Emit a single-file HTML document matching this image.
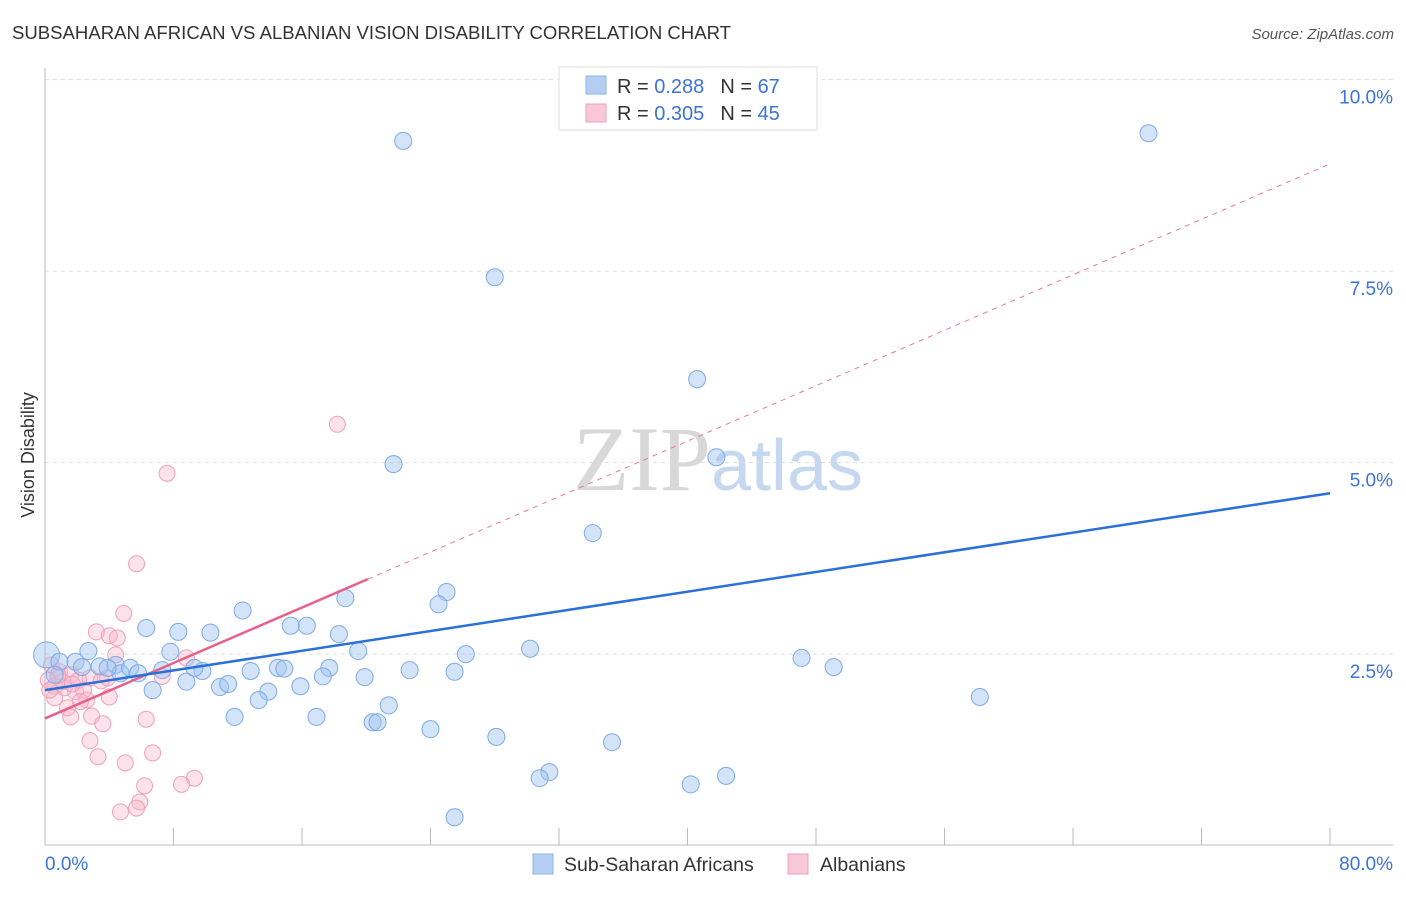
<!DOCTYPE html>
<html><head><meta charset="utf-8"><style>
body{margin:0;background:#fff;font-family:"Liberation Sans",sans-serif;}
svg text{font-family:"Liberation Sans",sans-serif;}
</style></head><body>
<svg id="chart" width="1406" height="892" xmlns="http://www.w3.org/2000/svg">
<text x="12" y="39" font-size="18" fill="#333" textLength="719" lengthAdjust="spacingAndGlyphs">SUBSAHARAN AFRICAN VS ALBANIAN VISION DISABILITY CORRELATION CHART</text>
<text x="1394" y="39" font-size="15" fill="#555" text-anchor="end" font-style="italic">Source: ZipAtlas.com</text>
<text x="718" y="490" font-size="92" text-anchor="middle"><tspan fill="#d8d8d8" font-family="Liberation Serif">ZIP</tspan><tspan fill="#c5d8ef" font-size="72">atlas</tspan></text>
<text transform="translate(34,455) rotate(-90)" font-size="18" fill="#333" text-anchor="middle">Vision Disability</text>
<g id="grid"></g><g id="axes"></g><g id="marks"></g>
<g>
<rect x="559" y="67" width="258" height="63" fill="#fff" stroke="#ddd"/>
<rect x="586" y="76" width="20" height="18" fill="#b5cff3" stroke="#8ab4e8"/>
<rect x="586" y="104" width="20" height="18" fill="#f9c8d6" stroke="#f0a0b8"/>
<text x="617" y="93" font-size="20" fill="#333">R = <tspan fill="#3b74d6">0.288</tspan><tspan dx="16">N = </tspan><tspan fill="#3b74d6">67</tspan></text>
<text x="617" y="120" font-size="20" fill="#333">R = <tspan fill="#3b74d6">0.305</tspan><tspan dx="16">N = </tspan><tspan fill="#3b74d6">45</tspan></text>
</g>
<g>
<rect x="533" y="854" width="20" height="20" fill="#b5cff3" stroke="#8ab4e8"/>
<text x="564" y="871" font-size="19.5" fill="#333">Sub-Saharan Africans</text>
<rect x="788" y="854" width="20" height="20" fill="#f9c8d6" stroke="#f0a0b8"/>
<text x="820" y="871" font-size="19.5" fill="#333">Albanians</text>
</g>
</svg>
<script>
const blueX=[22.3,68.7,28.0,40.6,21.7,41.8,34.1,25.0,24.5,18.7,12.3,6.3,8.3,10.3,15.3,16.3,18.3,19.5,26.2,30.2,47.1,49.1,58.2,7.8,8.8,6.7,10.9,11.4,9.8,9.3,12.8,14.5,14.9,13.9,13.3,15.9,17.7,17.3,19.9,22.7,25.5,21.4,20.4,20.7,16.9,11.8,24.0,28.1,35.3,31.4,30.8,40.2,42.4,25.5,0.1,0.9,1.9,2.7,3.4,4.4,4.7,5.3,5.8,7.3,3.9,0.6,2.3];
const blueY=[9.20,9.30,7.42,6.09,4.98,5.07,4.08,3.31,3.15,3.23,3.07,2.84,2.79,2.78,2.87,2.87,2.76,2.54,2.50,2.57,2.45,2.33,1.94,2.53,2.14,2.03,2.07,2.11,2.28,2.32,2.28,2.32,2.31,2.01,1.90,2.08,2.32,2.21,2.20,2.29,2.27,1.83,1.61,1.61,1.68,1.68,1.52,1.42,1.35,0.96,0.88,0.80,0.91,0.37,2.49,2.40,2.40,2.54,2.34,2.36,2.25,2.32,2.25,2.29,2.32,2.23,2.33];
const pinkX=[18.2,7.6,5.7,4.9,3.2,4.0,4.5,4.4,8.8,7.3,0.4,0.9,1.6,2.1,2.8,3.5,3.9,0.6,1.2,1.9,2.4,0.2,0.6,2.6,4.0,1.4,2.9,1.6,3.6,6.3,2.8,6.7,3.3,5.0,9.3,8.5,6.2,5.9,5.7,4.7,0.3,1.1,1.7,2.2,0.8];
const pinkY=[5.50,4.86,3.68,3.03,2.79,2.74,2.71,2.49,2.45,2.21,2.36,2.27,2.23,2.16,2.19,2.15,2.19,2.08,2.06,2.01,2.03,2.16,1.93,1.90,1.94,1.80,1.69,1.68,1.59,1.65,1.37,1.21,1.16,1.08,0.88,0.80,0.78,0.57,0.49,0.44,2.03,2.14,2.11,1.88,2.22];
const blueTrend=[2.03,4.60];
const pinkTrend=[1.66,8.90];
const pinkSolidEnd=20.1;
const yTicks=[2.5,5.0,7.5,10.0];
const yTickLabels=["2.5%","5.0%","7.5%","10.0%"];
const xTicks=[0,8,16,24,32,40,48,56,64,72,80];

const NS="http://www.w3.org/2000/svg";
const X=v=>45+v*(1330-45)/80;
const Y=v=>845.6-v*76.6;
function mk(tag,attrs,parent){const e=document.createElementNS(NS,tag);for(const k in attrs)e.setAttribute(k,attrs[k]);document.getElementById(parent).appendChild(e);return e;}
yTicks.forEach((t,i)=>{
  const g=mk('line',{x1:45,x2:1393,y1:Y(t),y2:Y(t),stroke:'#ddd','stroke-dasharray':'4,4'},'grid');
  
  
  const l=mk('text',{x:1393,y:Y(t)+24,'font-size':19,fill:'#3b74d6','text-anchor':'end'},'grid');
  l.textContent=yTickLabels[i];
  
  
});
const ax=mk('line',{x1:45,x2:45,y1:68,y2:845,stroke:'#bbb'},'axes');


const bx=mk('line',{x1:45,x2:1393,y1:845,y2:845,stroke:'#bbb'},'axes');


xTicks.forEach(t=>{
  const tk=mk('line',{x1:X(t),x2:X(t),y1:828,y2:845,stroke:'#bbb'},'axes');
  
  
});
const x0=mk('text',{x:45,y:870,'font-size':19,fill:'#3b74d6'},'axes');x0.textContent="0.0%";


const x1=mk('text',{x:1393,y:870,'font-size':19,fill:'#3b74d6','text-anchor':'end'},'axes');x1.textContent="80.0%";


pinkX.forEach((v,i)=>{
  const c=mk('circle',{cx:X(v),cy:Y(pinkY[i]),r:8,fill:'rgba(248,182,202,0.4)',stroke:'#f0a0b8','stroke-width':1},'marks');
  
  
});
blueX.forEach((v,i)=>{
  const c=mk('circle',{cx:X(v),cy:Y(blueY[i]),r:i==54?13:8.5,fill:'rgba(160,196,240,0.45)',stroke:'#7eaae6','stroke-width':1},'marks');
  
  
});
const pAt=x=>pinkTrend[0]+(pinkTrend[1]-pinkTrend[0])*x/80;
const pd=mk('line',{x1:X(pinkSolidEnd),y1:Y(pAt(pinkSolidEnd)),x2:X(80),y2:Y(pinkTrend[1]),stroke:'#e87a9c','stroke-width':1,'stroke-dasharray':'5,5'},'marks');


const ps=mk('line',{x1:X(0),y1:Y(pinkTrend[0]),x2:X(pinkSolidEnd),y2:Y(pAt(pinkSolidEnd)),stroke:'#e8608a','stroke-width':2.5},'marks');


const bl=mk('line',{x1:X(0),y1:Y(blueTrend[0]),x2:X(80),y2:Y(blueTrend[1]),stroke:'#2a70d8','stroke-width':2.5},'marks');


</script>
</body></html>
